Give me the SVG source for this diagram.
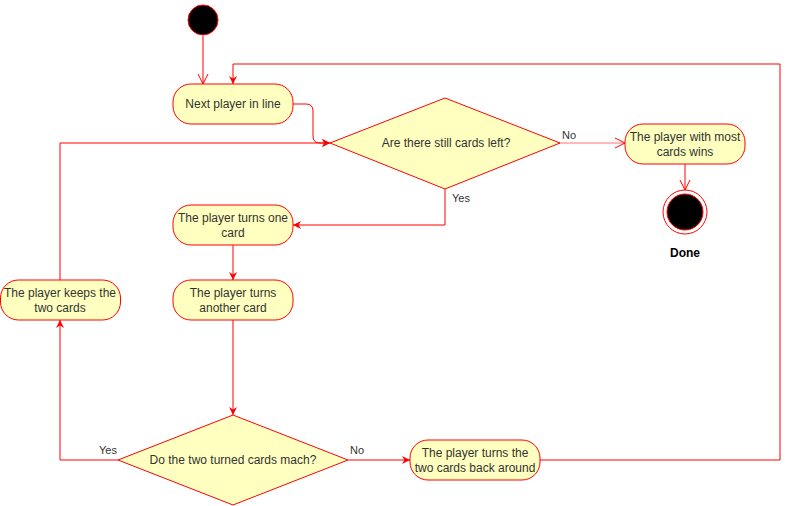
<svg xmlns="http://www.w3.org/2000/svg" width="789" height="506" viewBox="0 0 789 506">
<defs>
<style>
.node{fill:#ffffc0;stroke:#ff0000;stroke-width:1}
.edge{fill:none;stroke:#ff0000;stroke-width:1}
.t{font-family:"Liberation Sans",Arial,sans-serif;font-size:12px;fill:#333;text-anchor:middle}
.lbl{font-family:"Liberation Sans",Arial,sans-serif;font-size:11px;fill:#333}
</style>
<marker id="block" viewBox="0 0 10 10" refX="10" refY="5" markerWidth="8" markerHeight="8" markerUnits="userSpaceOnUse" orient="auto">
<path d="M0,0 L10,5 L0,10 L3,5 Z" fill="#ff0000"/>
</marker>
<marker id="open" viewBox="0 0 12 12" refX="11" refY="6" markerWidth="12" markerHeight="12" markerUnits="userSpaceOnUse" orient="auto">
<path d="M1,1 L11,6 L1,11" fill="none" stroke="#ff0000" stroke-width="1"/>
</marker>
</defs>
<rect width="789" height="506" fill="#ffffff"/>
<g id="connectors">
<path class="edge" d="M203,36 L203,84" marker-end="url(#open)"/>
<path class="edge" d="M293,104 L306,104 Q313,104 313,111 L313,136 Q313,143 320,143 L330,143" marker-end="url(#block)"/>
<path class="edge" d="M60,280 L60,143 L330,143" marker-end="url(#block)"/>
<path class="edge" d="M559,143 L625,143" stroke="#ff7070" style="stroke:#ff7070" marker-end="url(#open)"/>
<path class="edge" d="M685,164 L685,190" marker-end="url(#open)"/>
<path class="edge" d="M445,189 L445,225 L293,225" marker-end="url(#block)"/>
<path class="edge" d="M233,245 L233,280" marker-end="url(#block)"/>
<path class="edge" d="M233,320 L233,415" marker-end="url(#block)"/>
<path class="edge" d="M118,460 L60,460 L60,320" marker-end="url(#block)"/>
<path class="edge" d="M348,460 L410,460" marker-end="url(#block)"/>
<path class="edge" d="M540,460 L780,460 L780,64 L233,64 L233,84" marker-end="url(#block)"/>
<text class="lbl" x="562" y="139">No</text>
<text class="lbl" x="452" y="202">Yes</text>
<text class="lbl" x="99" y="454">Yes</text>
<text class="lbl" x="350" y="454">No</text>
</g>
<g id="start"><circle cx="203" cy="20" r="15" fill="#000" stroke="#ff0000"/></g>
<g id="next"><rect class="node" x="173" y="84" width="120" height="40" rx="18"/><text class="t" x="233" y="108">Next player in line</text></g>
<g id="cardsLeft"><path class="node" d="M330,143 L445,98 L560,143 L445,189 Z"/><text class="t" x="446" y="147">Are there still cards left?</text></g>
<g id="wins"><rect class="node" x="625" y="124" width="120" height="40" rx="18"/><text class="t" x="685" y="141">The player with most</text><text class="t" x="685" y="156">cards wins</text></g>
<g id="end"><circle cx="685" cy="212" r="22" fill="#fff" stroke="#ff0000"/><circle cx="685" cy="212" r="18" fill="#000" stroke="#ff0000"/><text class="t" x="685" y="257" style="font-weight:bold;fill:#000">Done</text></g>
<g id="turnOne"><rect class="node" x="173" y="205" width="120" height="40" rx="18"/><text class="t" x="233" y="222">The player turns one</text><text class="t" x="233" y="237">card</text></g>
<g id="turnAnother"><rect class="node" x="173" y="280" width="120" height="40" rx="18"/><text class="t" x="233" y="297">The player turns</text><text class="t" x="233" y="312">another card</text></g>
<g id="keeps"><rect class="node" x="0.5" y="280" width="120" height="40" rx="18"/><text class="t" x="60" y="297">The player keeps the</text><text class="t" x="60" y="312">two cards</text></g>
<g id="match"><path class="node" d="M118,460 L233,415 L348,460 L233,505 Z"/><text class="t" x="233" y="464">Do the two turned cards mach?</text></g>
<g id="turnBack"><rect class="node" x="410" y="440" width="130" height="40" rx="18"/><text class="t" x="475" y="457">The player turns the</text><text class="t" x="475" y="472">two cards back around</text></g>
</svg>
